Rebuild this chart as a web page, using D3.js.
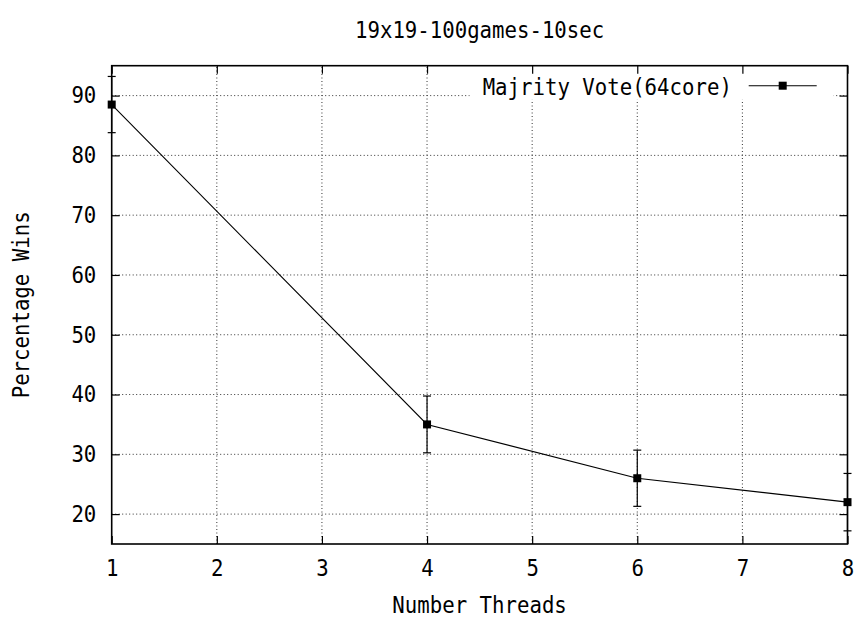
<!DOCTYPE html>
<html>
<head>
<meta charset="utf-8">
<script src="https://cdn.jsdelivr.net/npm/d3@7"></script>
<style>
  body { margin: 0; background: #fff; }
  svg text {
    font-family: "DejaVu Sans Mono", monospace;
    fill: #000;
    transform-box: fill-box;
    transform-origin: center;
    transform: scaleX(0.9);
  }
</style>
</head>
<body>
<svg id="chart"></svg>
<script>
const threads = [1, 4, 6, 8];
const winPct = [88.5, 35, 26, 22];
const winErr = [4.7, 4.75, 4.7, 4.8];
const xTicks = [1, 2, 3, 4, 5, 6, 7, 8];
const yTicks = [20, 30, 40, 50, 60, 70, 80, 90];
const seriesName = "Majrity Vote(64core)";
const chartTitle = "19x19-100games-10sec";

const W = 862, H = 619;
const margin = { top: 65.7, right: 14.5, bottom: 75, left: 111.7 };
const width = W - margin.left - margin.right;
const height = H - margin.top - margin.bottom;
const fs = 23;

const svg = d3.select("#chart").attr("width", W).attr("height", H);

const x = d3.scaleLinear().domain([1, 8]).range([0, width]);
const y = d3.scaleLinear().domain([15, 95]).range([height, 0]);

const g = svg.append("g")
  .attr("transform", "translate(" + margin.left + "," + margin.top + ")");

// grid
const grid = g.append("g")
  .attr("stroke", "#333")
  .attr("stroke-width", 1)
  .attr("stroke-dasharray", "1,2.5");

grid.selectAll(".gx")
  .data(xTicks.filter((d) => d > 1 && d < 8))
  .enter()
  .append("line")
  .attr("x1", (d) => x(d)).attr("x2", (d) => x(d))
  .attr("y1", height).attr("y2", 0);

grid.selectAll(".gy")
  .data(yTicks)
  .enter()
  .append("line")
  .attr("x1", 0).attr("x2", width)
  .attr("y1", (d) => y(d)).attr("y2", (d) => y(d));

// key box blanks the grid behind it
g.append("rect")
  .attr("x", 358).attr("y", 0)
  .attr("width", 364).attr("height", 34)
  .attr("fill", "#fff");

// ticks on all four sides, pointing inward
const tickLen = 8;
const axisBottom = d3.axisBottom(x).tickValues(xTicks).tickFormat(d3.format("d"))
  .tickSizeInner(-tickLen).tickSizeOuter(0).tickPadding(16);
const axisTop = d3.axisTop(x).tickValues(xTicks).tickSizeInner(-tickLen).tickSizeOuter(0).tickFormat("");
const axisLeft = d3.axisLeft(y).tickValues(yTicks).tickSizeInner(-tickLen).tickSizeOuter(0).tickPadding(16);
const axisRight = d3.axisRight(y).tickValues(yTicks).tickSizeInner(-tickLen).tickSizeOuter(0).tickFormat("");

function styleAxis(sel) {
  sel.select(".domain").remove();
  sel.selectAll(".tick line").attr("stroke", "#000").attr("stroke-width", 1.2);
  sel.selectAll(".tick text").attr("font-size", fs).attr("fill", "#000")
    .attr("font-family", "DejaVu Sans Mono, monospace");
}

g.append("g").attr("transform", "translate(0," + height + ")").call(axisBottom).call(styleAxis);
g.append("g").call(axisTop).call(styleAxis);
g.append("g").call(axisLeft).call(styleAxis)
  .selectAll(".tick text").attr("x", -14);
g.append("g").attr("transform", "translate(" + width + ",0)").call(axisRight).call(styleAxis);

// series line
const line = d3.line()
  .x((d, i) => x(threads[i]))
  .y((d) => y(d));

g.append("path")
  .datum(winPct)
  .attr("fill", "none")
  .attr("stroke", "#000")
  .attr("stroke-width", 1.1)
  .attr("d", line);

// error bars
const errs = g.append("g").attr("stroke", "#000").attr("stroke-width", 1.2);
threads.forEach((t, i) => {
  const cx = x(t);
  const lo = y(winPct[i] - winErr[i]);
  const hi = y(winPct[i] + winErr[i]);
  errs.append("line").attr("x1", cx).attr("x2", cx).attr("y1", lo).attr("y2", hi);
  errs.append("line").attr("x1", cx - 4).attr("x2", cx + 4).attr("y1", lo).attr("y2", lo);
  errs.append("line").attr("x1", cx - 4).attr("x2", cx + 4).attr("y1", hi).attr("y2", hi);
});

// markers
g.selectAll(".pt")
  .data(winPct)
  .enter()
  .append("rect")
  .attr("class", "pt")
  .attr("x", (d, i) => x(threads[i]) - 4)
  .attr("y", (d) => y(d) - 4)
  .attr("width", 8)
  .attr("height", 8)
  .attr("fill", "#000");

// border
g.append("rect")
  .attr("width", width).attr("height", height)
  .attr("fill", "none")
  .attr("stroke", "#000")
  .attr("stroke-width", 1.6);

// key
const key = g.append("g");
key.append("text")
  .attr("x", 634).attr("y", 29.3)
  .attr("text-anchor", "end")
  .attr("font-size", fs)
  .text(seriesName);
key.append("line")
  .attr("x1", 637).attr("x2", 705)
  .attr("y1", 20).attr("y2", 20)
  .attr("stroke", "#000").attr("stroke-width", 1.1);
key.append("rect")
  .attr("x", 667).attr("y", 16)
  .attr("width", 8).attr("height", 8)
  .attr("fill", "#000");

// titles
svg.append("text")
  .attr("x", margin.left + width / 2).attr("y", 38)
  .attr("text-anchor", "middle")
  .attr("font-size", fs)
  .text(chartTitle);

svg.append("text")
  .attr("x", margin.left + width / 2).attr("y", 613)
  .attr("text-anchor", "middle")
  .attr("font-size", fs)
  .text("Number Threads");

svg.append("g")
  .attr("transform", "translate(29," + (margin.top + height / 2) + ") rotate(-90)")
  .append("text")
  .attr("text-anchor", "middle")
  .attr("font-size", fs)
  .text("Percentage Wins");
</script>
</body>
</html>
